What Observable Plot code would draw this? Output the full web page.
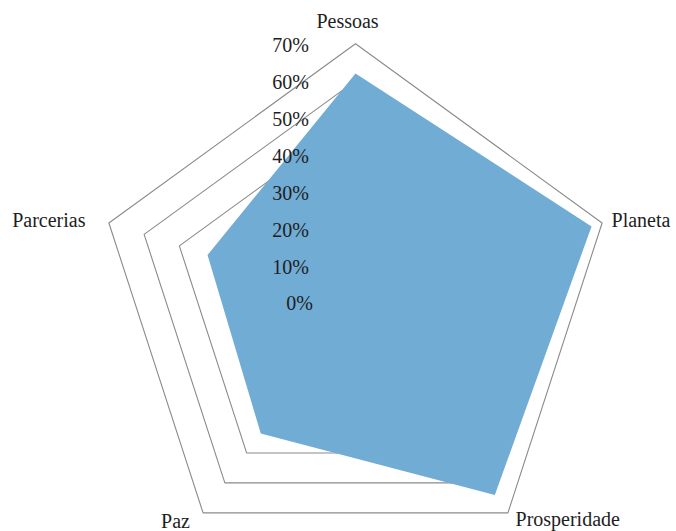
<!DOCTYPE html>
<html>
<head>
<meta charset="utf-8">
<script src="https://cdn.jsdelivr.net/npm/d3@7"></script>
<script src="https://cdn.jsdelivr.net/npm/@observablehq/plot@0.6"></script>
<style>
  html, body { margin: 0; padding: 0; background: #fff; }
  #chart svg { display: block; }
</style>
</head>
<body>
<div id="chart"></div>
<script>
// ---- data ----
const categories = ["Pessoas", "Planeta", "Prosperidade", "Paz", "Parcerias"];
const values = [62, 67, 64, 43.5, 42];            // percent
const gridLevels = [50, 60, 70];                   // percent rings drawn
const tickValues = [0, 10, 20, 30, 40, 50, 60, 70];
const tickLabels = ["0%", "10%", "20%", "30%", "40%", "50%", "60%", "70%"];

// ---- geometry helpers ----
const W = 676, H = 531;
const cx = 355, cy = 302.6;       // center in pixels
const k = 259.3 / 70;             // pixels per percent
const n = categories.length;
const ang = i => i * 2 * Math.PI / n;
const px = (i, r) => Math.sin(ang(i)) * r;
const py = (i, r) => Math.cos(ang(i)) * r;

const gridPts = gridLevels.flatMap(l => categories.map((c, i) => ({level: l, i})));
const dataPts = categories.map((c, i) => ({i, v: values[i]}));

const fillColor = "#71acd4";
const gridColor = "#8a8a8a";
const textColor = "#1e1e1e";
const font = "Liberation Serif, Times New Roman, serif";

const labelStyle = [
  {anchor: "middle", dx: -8,    dy: -22.7},
  {anchor: "start",  dx: 9.4,   dy: -2.3},
  {anchor: "start",  dx: 7.6,   dy: 7},
  {anchor: "middle", dx: -27.6, dy: 8.7},
  {anchor: "end",    dx: -23.4, dy: -2}
];

const rMax = Math.max(...gridLevels);

const chart = Plot.plot({
  width: W,
  height: H,
  margin: 0,
  x: {domain: [-cx / k, (W - cx) / k], axis: null},
  y: {domain: [-(H - cy) / k, cy / k], axis: null},
  style: {fontFamily: font, fontSize: "20px", color: textColor, background: "#fff"},
  marks: [
    Plot.line(gridPts, {
      x: d => px(d.i, d.level), y: d => py(d.i, d.level), z: "level",
      curve: "linear-closed", stroke: gridColor, strokeWidth: 1.1
    }),
    Plot.line(dataPts, {
      x: d => px(d.i, d.v), y: d => py(d.i, d.v),
      curve: "linear-closed", fill: fillColor, stroke: "none"
    }),
    ...categories.map((c, i) => Plot.text([c], {
      x: () => px(i, rMax), y: () => py(i, rMax), text: d => d,
      textAnchor: labelStyle[i].anchor, dx: labelStyle[i].dx, dy: labelStyle[i].dy,
      fill: textColor, fontSize: 20
    })),
    Plot.text(tickValues.filter(v => v > 0), {
      x: 0, y: d => d, text: d => tickLabels[tickValues.indexOf(d)],
      textAnchor: "end", dx: -46.7, dy: 2, fill: textColor, fontSize: 20
    }),
    Plot.text(tickValues.filter(v => v === 0), {
      x: 0, y: d => d, text: d => tickLabels[tickValues.indexOf(d)],
      textAnchor: "end", dx: -42.7, dy: 0, fill: textColor, fontSize: 20
    })
  ]
});
document.getElementById("chart").append(chart);
</script>
</body>
</html>
